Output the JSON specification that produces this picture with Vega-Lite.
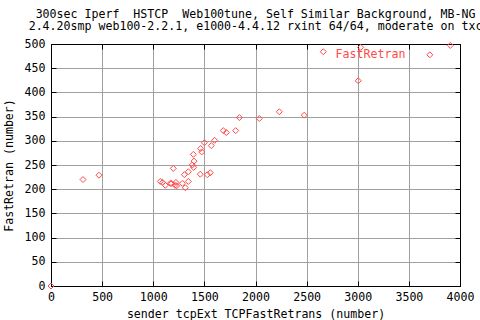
{
  "$schema": "https://vega.github.io/schema/vega-lite/v6.json",
  "autosize": {"type": "none"},
  "width": 409,
  "height": 242,
  "padding": {"left": 51, "top": 44, "right": 20, "bottom": 34},
  "background": "white",
  "title": {
    "text": ["300sec Iperf \u00a0HSTCP \u00a0Web100tune, Self Similar Background, MB-NG", "2.4.20smp web100-2.2.1, e1000-4.4.12 rxint 64/64, moderate on txc"],
    "font": "DejaVu Sans Mono",
    "fontSize": 11.6,
    "fontWeight": "normal",
    "color": "black",
    "lineHeight": 12,
    "anchor": "middle",
    "frame": "group",
    "offset": 5
  },
  "config": {
    "view": {"stroke": "black", "strokeWidth": 1},
    "font": "DejaVu Sans Mono",
    "axis": {
      "labelFont": "DejaVu Sans Mono",
      "labelFontSize": 11.6,
      "labelColor": "black",
      "titleFont": "DejaVu Sans Mono",
      "titleFontSize": 11.6,
      "titleFontWeight": "normal",
      "titleColor": "black",
      "domainColor": "black",
      "tickColor": "black",
      "gridColor": "#a0a0a0",
      "gridOpacity": 1,
      "gridWidth": 1
    }
  },
  "data": {"values": [
    {"x": 0, "y": 0, "s": "FastRetran"},
    {"x": 313, "y": 220, "s": "FastRetran"},
    {"x": 469, "y": 229, "s": "FastRetran"},
    {"x": 1069, "y": 216, "s": "FastRetran"},
    {"x": 1092, "y": 214, "s": "FastRetran"},
    {"x": 1118, "y": 208, "s": "FastRetran"},
    {"x": 1167, "y": 212, "s": "FastRetran"},
    {"x": 1180, "y": 212, "s": "FastRetran"},
    {"x": 1196, "y": 243, "s": "FastRetran"},
    {"x": 1213, "y": 208, "s": "FastRetran"},
    {"x": 1222, "y": 214, "s": "FastRetran"},
    {"x": 1229, "y": 207, "s": "FastRetran"},
    {"x": 1284, "y": 212, "s": "FastRetran"},
    {"x": 1304, "y": 230, "s": "FastRetran"},
    {"x": 1314, "y": 203, "s": "FastRetran"},
    {"x": 1343, "y": 216, "s": "FastRetran"},
    {"x": 1343, "y": 236, "s": "FastRetran"},
    {"x": 1382, "y": 250, "s": "FastRetran"},
    {"x": 1395, "y": 245, "s": "FastRetran"},
    {"x": 1399, "y": 258, "s": "FastRetran"},
    {"x": 1392, "y": 272, "s": "FastRetran"},
    {"x": 1460, "y": 231, "s": "FastRetran"},
    {"x": 1464, "y": 284, "s": "FastRetran"},
    {"x": 1474, "y": 277, "s": "FastRetran"},
    {"x": 1500, "y": 296, "s": "FastRetran"},
    {"x": 1529, "y": 230, "s": "FastRetran"},
    {"x": 1558, "y": 234, "s": "FastRetran"},
    {"x": 1568, "y": 290, "s": "FastRetran"},
    {"x": 1600, "y": 301, "s": "FastRetran"},
    {"x": 1685, "y": 321, "s": "FastRetran"},
    {"x": 1715, "y": 317, "s": "FastRetran"},
    {"x": 1806, "y": 321, "s": "FastRetran"},
    {"x": 1842, "y": 348, "s": "FastRetran"},
    {"x": 2037, "y": 346, "s": "FastRetran"},
    {"x": 2233, "y": 360, "s": "FastRetran"},
    {"x": 2477, "y": 353, "s": "FastRetran"},
    {"x": 2663, "y": 484, "s": "FastRetran"},
    {"x": 3005, "y": 424, "s": "FastRetran"},
    {"x": 3029, "y": 493, "s": "FastRetran"},
    {"x": 3905, "y": 497, "s": "FastRetran"}
  ]},
  "resolve": {"axis": {"x": "independent", "y": "independent"}},
  "layer": [
    {
      "mark": {"type": "point", "shape": "diamond", "filled": false, "size": 36, "strokeWidth": 1, "opacity": 1},
      "encoding": {
        "x": {"field": "x", "type": "quantitative", "scale": {"domain": [0, 4000], "nice": false, "zero": false},
          "axis": {"orient": "bottom", "title": "sender tcpExt TCPFastRetrans (number)", "format": "d", "values": [0, 500, 1000, 1500, 2000, 2500, 3000, 3500, 4000], "grid": true, "tickSize": -5, "labelPadding": 10, "titlePadding": 6, "labelFlush": false, "labelOverlap": false}},
        "y": {"field": "y", "type": "quantitative", "scale": {"domain": [0, 500], "nice": false, "zero": false},
          "axis": {"orient": "left", "title": "FastRetran (number)", "format": "d", "values": [0, 50, 100, 150, 200, 250, 300, 350, 400, 450, 500], "grid": true, "tickSize": -5, "labelPadding": 11, "titlePadding": 10, "labelFlush": false, "labelOverlap": false, "labelBaseline": "middle"}},
        "color": {"field": "s", "type": "nominal", "scale": {"range": ["#ff4a4a"]},
          "legend": {"title": null, "orient": "none", "legendX": 371, "legendY": 3, "labelFont": "DejaVu Sans Mono", "labelFontSize": 11.6, "labelColor": "#ff4a4a", "labelOffset": -100, "symbolOffset": 0, "symbolSize": 36, "symbolType": "diamond", "symbolFillColor": "transparent", "symbolStrokeWidth": 1, "padding": 2, "fillColor": "white", "zindex": 0}}
      }
    },
    {
      "mark": {"type": "point", "opacity": 0},
      "encoding": {
        "x": {"field": "x", "type": "quantitative",
          "axis": {"orient": "top", "title": null, "labels": false, "grid": false, "tickSize": -5, "values": [0, 500, 1000, 1500, 2000, 2500, 3000, 3500, 4000]}},
        "y": {"field": "y", "type": "quantitative",
          "axis": {"orient": "right", "title": null, "labels": false, "grid": false, "tickSize": -5, "values": [0, 50, 100, 150, 200, 250, 300, 350, 400, 450, 500]}}
      }
    }
  ]
}
